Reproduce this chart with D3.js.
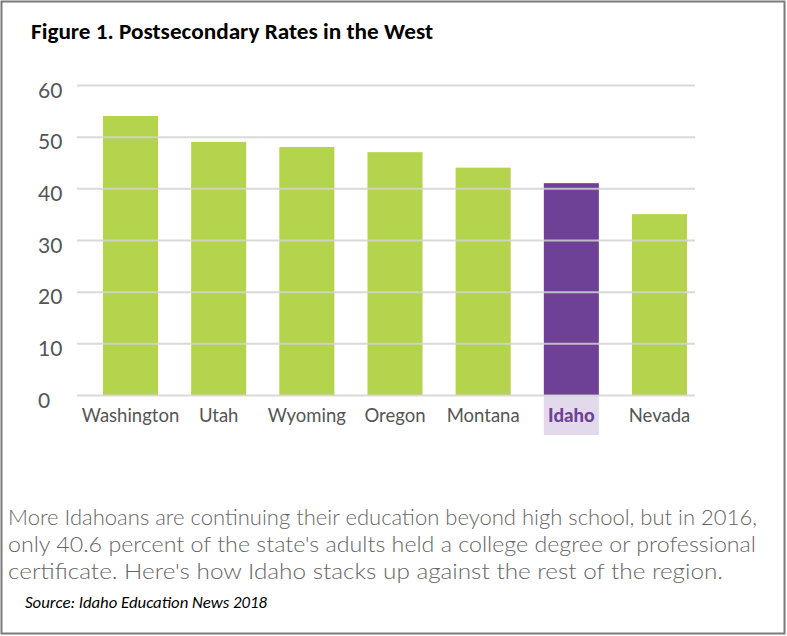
<!DOCTYPE html>
<html>
<head>
<meta charset="utf-8">
<script src="https://cdn.jsdelivr.net/npm/d3@7"></script>
<style>
  body { margin: 0; background: #fff; }
  svg { display: block; }
</style>
</head>
<body>
<svg id="chart" width="787" height="636"></svg>
<script>
  'use strict';

  // chart data
  var states = ['Washington', 'Utah', 'Wyoming', 'Oregon', 'Montana', 'Idaho', 'Nevada'];
  var rates = [54, 49, 48, 47, 44, 41, 35];
  var yTicks = [0, 10, 20, 30, 40, 50, 60];
  var highlight = 'Idaho';

  var titleText = 'Figure 1. Postsecondary Rates in the West';
  var noteLines = [
    'More Idahoans are continuing their education beyond high school, but in 2016,',
    'only 40.6 percent of the state\'s adults held a college degree or professional',
    'certificate. Here\'s how Idaho stacks up against the rest of the region.'
  ];
  var sourceText = 'Source: Idaho Education News 2018';

  var green = '#b3d44c',
      purple = '#6f4196',
      lilac = '#e3d9ec';

  var svg = d3.select('#chart');

  // frame
  svg.append('rect')
    .attr('x', 1.5).attr('y', 1.5)
    .attr('width', 783).attr('height', 632)
    .attr('fill', '#fff')
    .attr('stroke', '#7a7a7a')
    .attr('stroke-width', 2);

  svg.append('text')
    .attr('x', 31).attr('y', 39)
    .attr('font-family', 'Carlito, Calibri, "Open Sans", sans-serif')
    .attr('font-weight', 'bold')
    .attr('font-size', 22)
    .attr('fill', '#000')
    .attr('textLength', 402)
    .attr('lengthAdjust', 'spacingAndGlyphs')
    .text(titleText);

  var x = d3.scaleBand()
    .domain(states)
    .range([103, 687])
    .paddingInner(0.376)
    .paddingOuter(0);

  var y = d3.scaleLinear()
    .domain([0, 60])
    .range([395, 85]);

  var g = svg.append('g');

  // highlight box under the Idaho label
  g.append('rect')
    .attr('x', x(highlight))
    .attr('y', y(0))
    .attr('width', x.bandwidth())
    .attr('height', 40)
    .attr('fill', lilac);

  g.selectAll('rect.bar')
    .data(states)
    .enter()
    .append('rect')
      .attr('class', 'bar')
      .attr('x', function (d) { return x(d); })
      .attr('y', function (d, i) { return y(rates[i]); })
      .attr('width', x.bandwidth())
      .attr('height', function (d, i) { return y(0) - y(rates[i]); })
      .attr('fill', function (d) { return d === highlight ? purple : green; });

  // grid lines sit on top of the bars
  var yAxis = d3.axisLeft(y)
    .tickValues(yTicks)
    .tickSize(-(695 - 77))
    .tickFormat(d3.format('d'));

  var axisG = svg.append('g')
    .attr('transform', 'translate(77,0)')
    .call(yAxis);

  axisG.select('.domain').remove();
  axisG.selectAll('.tick line')
    .attr('stroke', '#d2d2d2')
    .attr('stroke-width', 2)
    .attr('stroke-opacity', 0.85);
  axisG.selectAll('.tick text')
    .attr('x', -39)
    .attr('y', -3)
    .attr('dy', '0.72em')
    .attr('text-anchor', 'start')
    .attr('font-family', 'Lato, "Open Sans", sans-serif')
    .attr('font-size', 21)
    .attr('fill', '#555');

  // category labels
  svg.selectAll('text.cat')
    .data(states)
    .enter()
    .append('text')
      .attr('class', 'cat')
      .attr('x', function (d) { return x(d) + x.bandwidth() / 2; })
      .attr('y', 422)
      .attr('text-anchor', 'middle')
      .attr('font-family', 'Lato, "Open Sans", sans-serif')
      .attr('font-size', 18.5)
      .attr('font-weight', function (d) { return d === highlight ? 900 : 400; })
      .attr('fill', function (d) { return d === highlight ? purple : '#555'; })
      .text(function (d) { return d; });

  // note under the chart
  var noteWidths = [749, 748, 715];
  svg.selectAll('text.note')
    .data(noteLines)
    .enter()
    .append('text')
      .attr('class', 'note')
      .attr('x', 8)
      .attr('y', function (d, i) { return 525 + i * 27; })
      .attr('font-family', 'Lato, "Open Sans", sans-serif')
      .attr('font-weight', 300)
      .attr('font-size', 21)
      .attr('fill', '#666')
      .attr('textLength', function (d, i) { return noteWidths[i]; })
      .attr('lengthAdjust', 'spacingAndGlyphs')
      .text(function (d) { return d; });

  svg.append('text')
    .attr('x', 25).attr('y', 608)
    .attr('font-family', 'Carlito, Calibri, "Open Sans", sans-serif')
    .attr('font-style', 'italic')
    .attr('font-size', 16)
    .attr('fill', '#000')
    .attr('textLength', 242)
    .attr('lengthAdjust', 'spacingAndGlyphs')
    .text(sourceText);
</script>
</body>
</html>
